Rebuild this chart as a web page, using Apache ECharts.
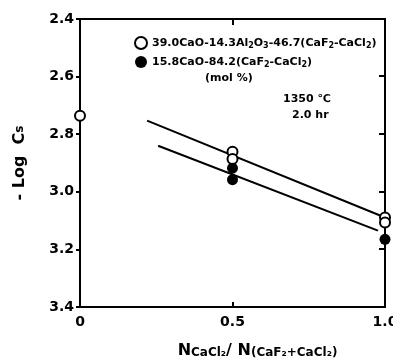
<!DOCTYPE html>
<html><head><meta charset="utf-8">
<script src="https://cdn.jsdelivr.net/npm/echarts@6/dist/echarts.min.js"></script>
<style>html,body{margin:0;padding:0;background:#fff}#c{width:393px;height:358px}</style>
</head><body><div id="c"></div>
<script>
const xTicks = [0, 0.5, 1.0];
const yTicks = [2.4, 2.6, 2.8, 3.0, 3.2, 3.4];
const openPts = [[0, 2.736], [0.5, 2.861], [0.5, 2.886], [1.0, 3.089], [1.0, 3.107]];
const filledPts = [[0.5, 2.918], [0.5, 2.958], [1.0, 3.165]];
const upperLine = [[0.22, 2.753], [0.99, 3.085]];
const lowerLine = [[0.256, 2.84], [0.977, 3.135]];
const legendNames = ['39.0CaO-14.3Al2O3-46.7(CaF2-CaCl2)', '15.8CaO-84.2(CaF2-CaCl2)'];

const F = 'DejaVu Sans';
const chart = echarts.init(document.getElementById('c'));
const sub = {fontSize: 8, fontWeight: 'bold', fontFamily: F, color: '#000', verticalAlign: 'bottom', padding: [6,0,0,0]};
chart.setOption({
  animation: false,
  grid: {left: 80, right: 8, top: 19, bottom: 51, outerBoundsMode: 'none', containLabel: false},
  legend: {
    orient: 'vertical', left: 129, top: 31, itemGap: 6, itemWidth: 12, itemHeight: 12,
    data: [
      {name: legendNames[0], icon: 'circle', itemStyle: {color: '#fff', borderColor: '#000', borderWidth: 2, opacity: 1}},
      {name: legendNames[1], icon: 'circle', itemStyle: {color: '#000', opacity: 1}}
    ],
    formatter: function(n){
      if (n === legendNames[0]) return '39.0CaO-14.3Al{s|2}O{s|3}-46.7(CaF{s|2}-CaCl{s|2})';
      return '15.8CaO-84.2(CaF{s|2}-CaCl{s|2})';
    },
    textStyle: {fontSize: 11, fontWeight: 'bold', fontFamily: F, color: '#000', rich: {s: sub}}
  },
  xAxis: {
    type: 'value', min: 0, max: 1, interval: 0.5,
    axisLine: {show: false, onZero: false},
    axisTick: {inside: true, length: 5, lineStyle: {color: '#000', width: 2}},
    splitLine: {show: false},
    axisLabel: {color: '#000', fontSize: 14, fontWeight: 'bold', fontFamily: F, margin: 8,
      formatter: v => v === 0 ? '0' : v.toFixed(1)},
    name: 'N{s|CaCl₂}/ N{s|(CaF₂+CaCl₂)}', nameLocation: 'middle', nameGap: 35,
    nameTextStyle: {color: '#000', fontSize: 16, fontWeight: 'bold', fontFamily: F, padding: [0, 0, 0, 50],
      rich: {s: {fontSize: 12, fontWeight: 'bold', fontFamily: F, color: '#000', padding: [5,0,0,0]}}}
  },
  yAxis: {
    type: 'value', min: 2.4, max: 3.4, interval: 0.2, inverse: true,
    axisLine: {show: false, onZero: false},
    axisTick: {inside: false, length: 4, lineStyle: {color: '#000', width: 2}},
    splitLine: {show: false},
    axisLabel: {color: '#000', fontSize: 14, fontWeight: 'bold', fontFamily: F, margin: 6,
      formatter: v => v.toFixed(1)},
    name: '- Log  C{s|s}', nameLocation: 'middle', nameGap: 52, nameRotate: 90,
    nameTextStyle: {color: '#000', fontSize: 16, fontWeight: 'bold', fontFamily: F,
      rich: {s: {fontSize: 12, fontWeight: 'bold', fontFamily: F, color: '#000'}}}
  },
  graphic: [
    {type: 'rect', shape: {x: 80, y: 19, width: 305, height: 288}, style: {fill: 'none', stroke: '#000', lineWidth: 2}, silent: true},
    {type: 'line', shape: {x1: 233, y1: 19, x2: 233, y2: 25}, style: {stroke: '#000', lineWidth: 2}},
    {type: 'line', shape: {x1: 379, y1: 76, x2: 385, y2: 76}, style: {stroke: '#000', lineWidth: 2}},
    {type: 'line', shape: {x1: 379, y1: 134, x2: 385, y2: 134}, style: {stroke: '#000', lineWidth: 2}},
    {type: 'line', shape: {x1: 379, y1: 192, x2: 385, y2: 192}, style: {stroke: '#000', lineWidth: 2}},
    {type: 'line', shape: {x1: 379, y1: 249, x2: 385, y2: 249}, style: {stroke: '#000', lineWidth: 2}},
    {type: 'text', left: 205, top: 73, style: {text: '(mol %)', fontSize: 11, fontWeight: 'bold', fontFamily: F, fill: '#000'}},
    {type: 'text', left: 283, top: 94, style: {text: '1350 ℃', fontSize: 11, fontWeight: 'bold', fontFamily: F, fill: '#000'}},
    {type: 'text', left: 292, top: 110, style: {text: '2.0 hr', fontSize: 11, fontWeight: 'bold', fontFamily: F, fill: '#000'}}
  ],
  series: [
    {type: 'line', data: upperLine, symbol: 'none', lineStyle: {color: '#000', width: 2}, silent: true, z: 1},
    {type: 'line', data: lowerLine, symbol: 'none', lineStyle: {color: '#000', width: 2}, silent: true, z: 1},
    {name: legendNames[0], type: 'scatter', data: openPts, symbol: 'circle', symbolSize: 10,
      itemStyle: {color: '#fff', borderColor: '#000', borderWidth: 2, opacity: 1}, z: 3},
    {name: legendNames[1], type: 'scatter', data: filledPts, symbol: 'circle', symbolSize: 11,
      itemStyle: {color: '#000', opacity: 1}, z: 4}
  ]
});
</script></body></html>
